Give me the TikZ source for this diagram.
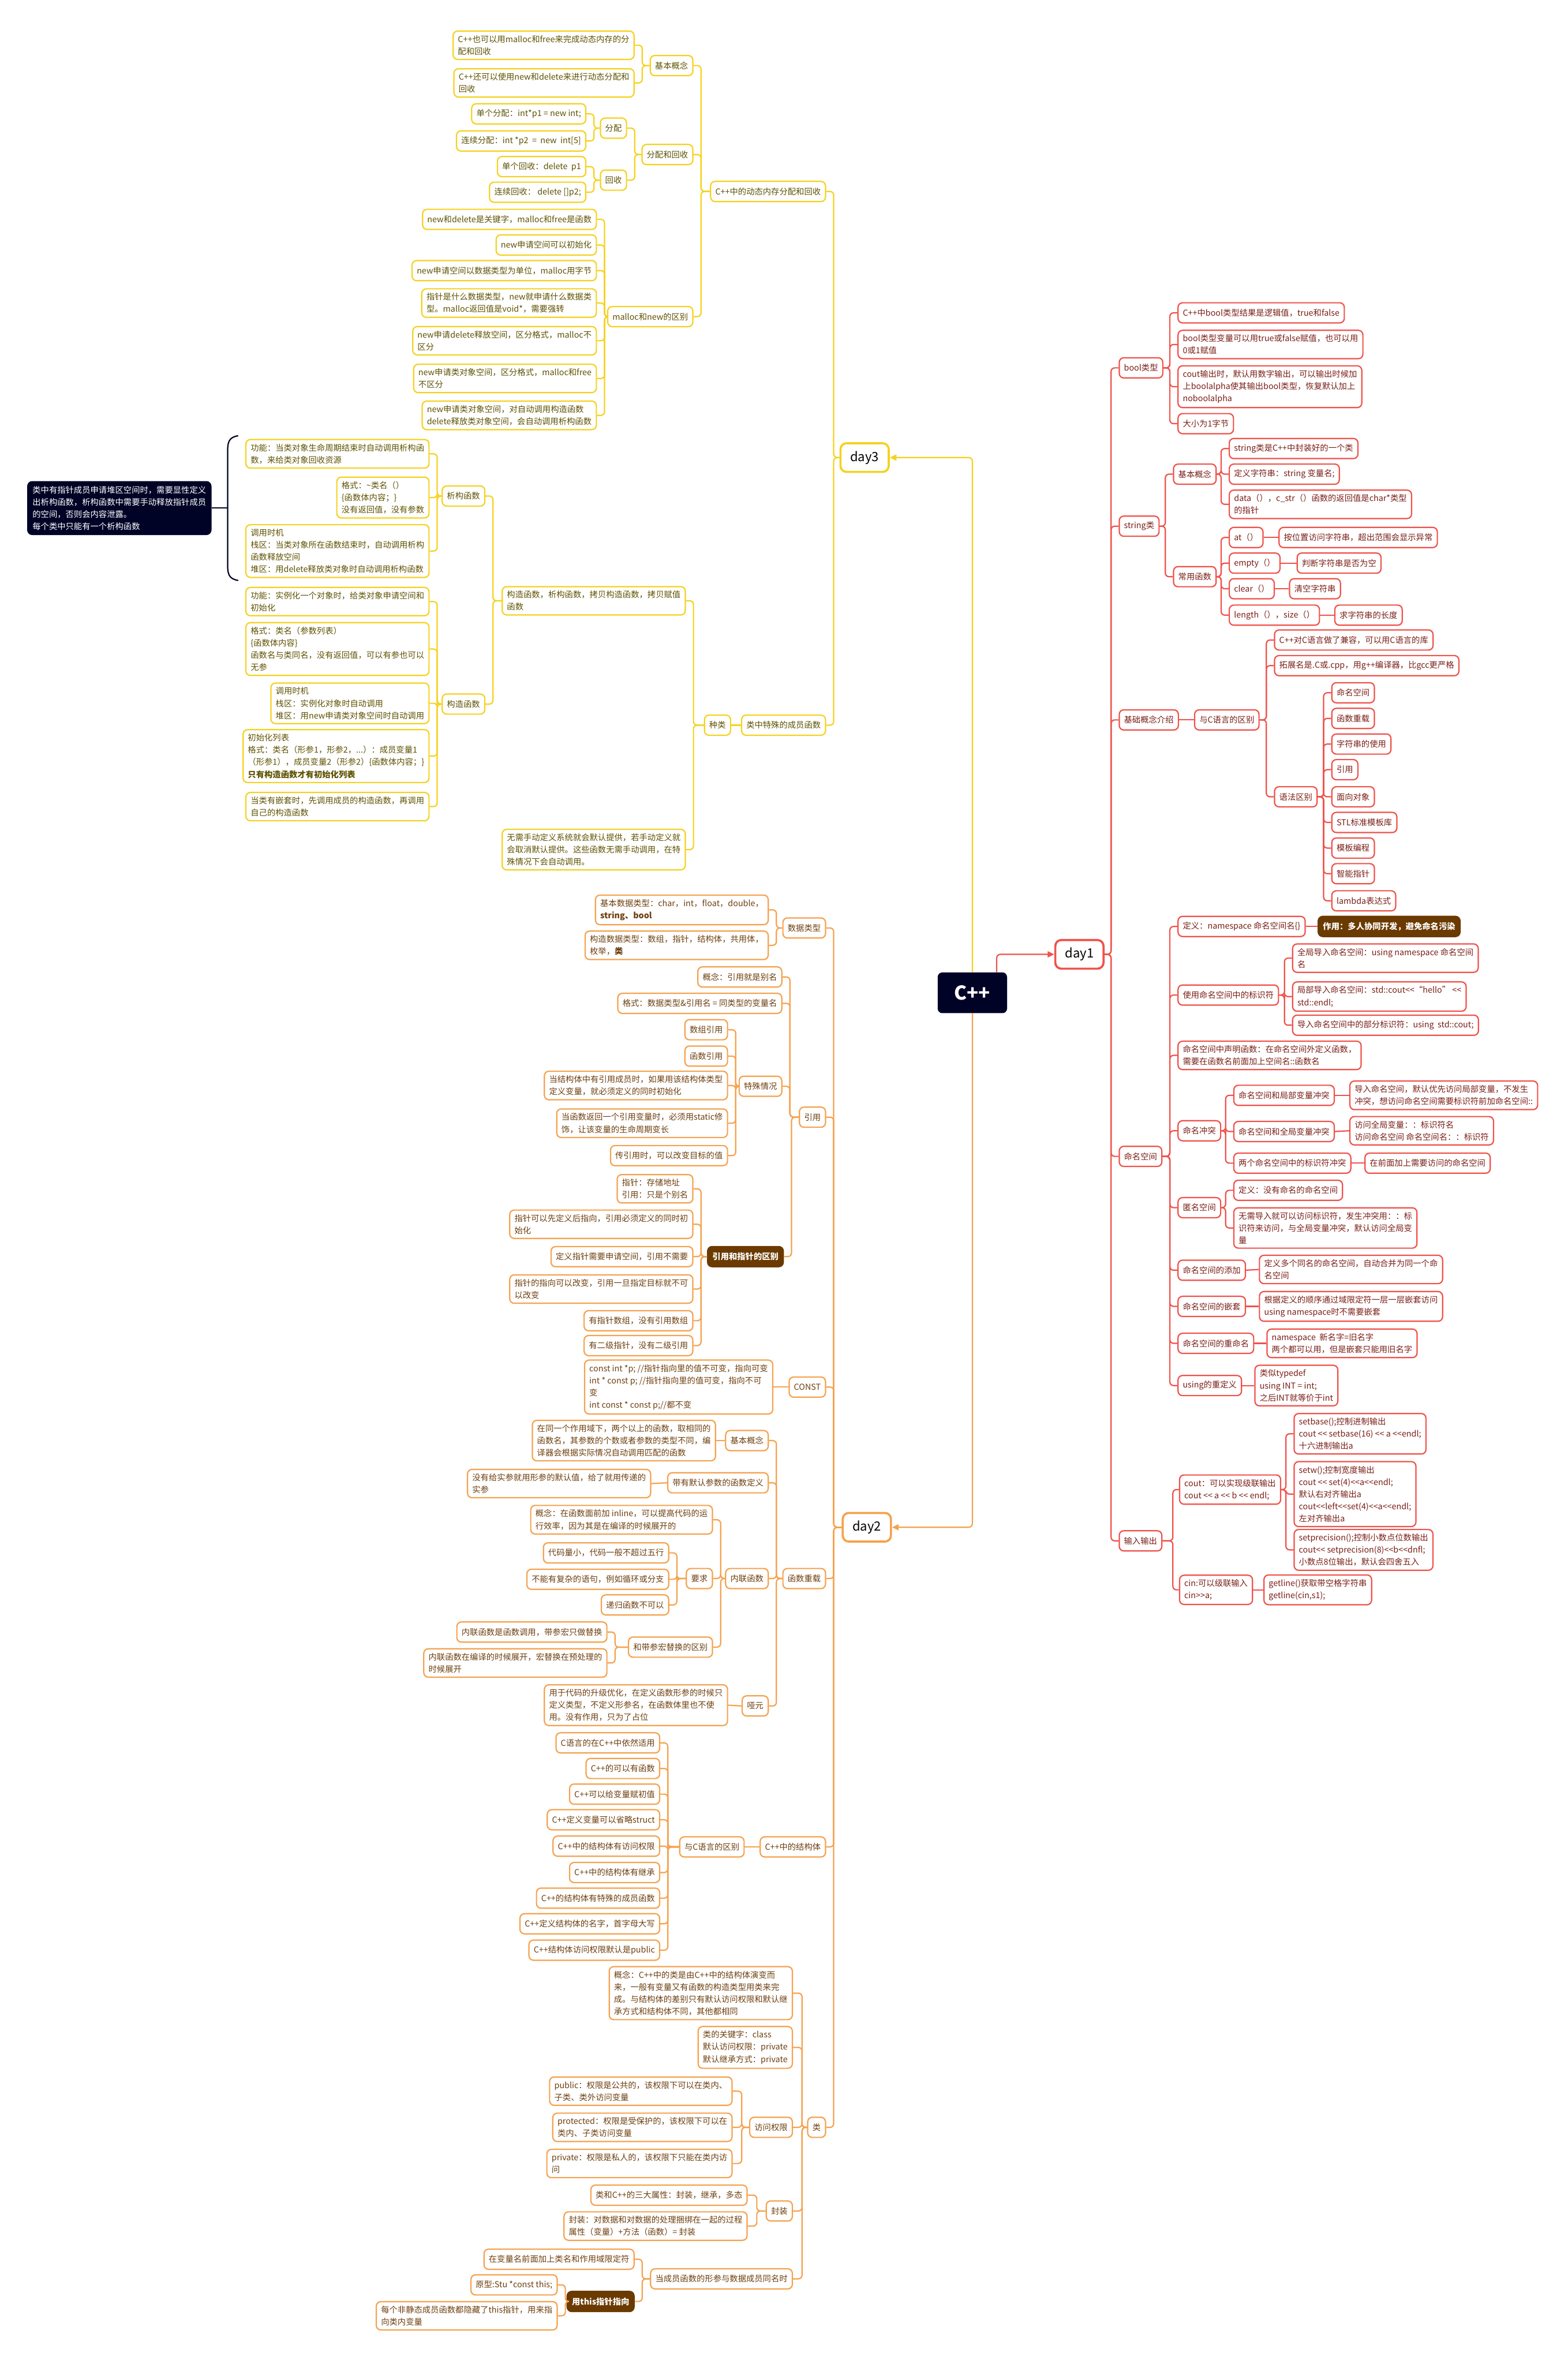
\documentclass[tikz,border=0pt]{standalone}
\usepackage{fontspec}
\setmainfont{Noto Sans CJK SC}
\usetikzlibrary{arrows.meta}
\definecolor{ylw}{HTML}{F5D21F}
\definecolor{ytx}{HTML}{5E5200}
\definecolor{rd}{HTML}{F0524B}
\definecolor{rtx}{HTML}{7A1E17}
\definecolor{org}{HTML}{F5A24E}
\definecolor{otx}{HTML}{6E3F0E}
\definecolor{brn}{HTML}{6B3A00}
\definecolor{navy}{HTML}{000326}
\newcommand\fs{\fontsize{7.8}{11.5}\selectfont}
\newcommand\sll{<\kern0pt<}
\newcommand\sgg{>\kern0pt>}

\begin{document}
\begin{tikzpicture}[
  x=0.5mm, y=-0.5mm,
  L/.style={anchor=east}, R/.style={anchor=west},
  box/.style={rectangle,rounded corners=1.5mm,line width=1.2pt,fill=white,align=left,font=\fs,inner xsep=4.5pt,inner ysep=4pt,minimum height=19pt},
  yb/.style={box,draw=ylw,text=ytx},
  rb/.style={box,draw=rd,text=rtx},
  ob/.style={box,draw=org,text=otx},
  hb/.style={box,draw=brn,fill=brn,text=white,font=\fs\bfseries},
  dayb/.style={rectangle,rounded corners=2mm,line width=2pt,fill=white,font=\fontsize{12}{14}\selectfont,minimum width=16mm,minimum height=9.5mm},
  ylk/.style={draw=ylw,line width=1.2pt,rounded corners=1.2mm},
  rlk/.style={draw=rd,line width=1.2pt,rounded corners=1.2mm},
  olk/.style={draw=org,line width=1.2pt,rounded corners=1.2mm},
  >={Triangle[length=2.2mm,width=2mm]}
]
\fill[white] (0,0) rectangle (1040,1568);
\useasboundingbox (0,0) rectangle (1040,1568);

% centre and the three days
\node[rectangle,rounded corners=1.5mm,fill=navy,text=white,font=\fontsize{18}{20}\selectfont\bfseries,minimum width=23mm,minimum height=13.5mm] (cpp) at (645,658.5) {C++};
\node[dayb,draw=ylw] (d3) at (573.5,303.5) {day3};
\node[dayb,draw=rd] (d1) at (716,633) {day1};
\node[dayb,draw=org] (d2) at (575,1013) {day2};
\draw[ylk,->] (cpp.north) |- (d3.east);
\draw[rlk,->] ([xshift=-3.5mm]cpp.north east) |- (d1.west);
\draw[olk,->] (cpp.south) |- (d2.east);

% ---------------- day3 ----------------
\node[yb,L] (dyn) at (548,127) {C++中的动态内存分配和回收};
\node[yb,L] (jb3) at (460,43.5) {基本概念};
\node[yb,L] (mf1) at (421,30) {C++也可以用malloc和free来完成动态内存的分\\配和回收};
\node[yb,L] (mf2) at (421,55) {C++还可以使用new和delete来进行动态分配和\\回收};
\node[yb,L] (fh) at (460,102.5) {分配和回收};
\node[yb,L] (fp) at (416,85) {分配};
\node[yb,L] (fp1) at (389,75.5) {单个分配：int*p1 = new int;};
\node[yb,L] (fp2) at (389,93.5) {连续分配：int *p2 \ = \ new \ int[5]};
\node[yb,L] (hs) at (416,119.5) {回收};
\node[yb,L] (hs1) at (389,110.5) {单个回收：delete \ p1};
\node[yb,L] (hs2) at (389,127.5) {连续回收： delete []p2;};
\node[yb,L] (mn) at (460,210) {malloc和new的区别};
\node[yb,L] (m1) at (396,145.5) {new和delete是关键字，malloc和free是函数};
\node[yb,L] (m2) at (396,162.5) {new申请空间可以初始化};
\node[yb,L] (m3) at (396,179.5) {new申请空间以数据类型为单位，malloc用字节};
\node[yb,L] (m4) at (396,201) {指针是什么数据类型，new就申请什么数据类\\型。malloc返回值是void*，需要强转};
\node[yb,L] (m5) at (396,226) {new申请delete释放空间，区分格式，malloc不\\区分};
\node[yb,L] (m6) at (396,251) {new申请类对象空间，区分格式，malloc和free\\不区分};
\node[yb,L] (m7) at (396,275.5) {new申请类对象空间，对自动调用构造函数\\delete释放类对象空间，会自动调用析构函数};

\node[yb,L] (spc) at (548,481) {类中特殊的成员函数};
\node[yb,L] (kind) at (485,481) {种类};
\node[yb,L] (fns) at (455,398.5) {构造函数，析构函数，拷贝构造函数，拷贝赋值\\函数};
\node[yb,L] (auto) at (455,563.5) {无需手动定义系统就会默认提供，若手动定义就\\会取消默认提供。这些函数无需手动调用，在特\\殊情况下会自动调用。};
\node[yb,L] (xg) at (322,329) {析构函数};
\node[yb,L] (xg1) at (285,301) {功能：当类对象生命周期结束时自动调用析构函\\数，来给类对象回收资源};
\node[yb,L] (xg2) at (285,330) {格式：\textasciitilde 类名（）\\\{函数体内容；\}\\没有返回值，没有参数};
\node[yb,L] (xg3) at (285,365.5) {调用时机\\栈区：当类对象所在函数结束时，自动调用析构\\函数释放空间\\堆区：用delete释放类对象时自动调用析构函数};
\node[yb,L] (gz) at (322,467) {构造函数};
\node[yb,L] (gz1) at (285,399) {功能：实例化一个对象时，给类对象申请空间和\\初始化};
\node[yb,L] (gz2) at (285,430.5) {格式：类名（参数列表）\\\{函数体内容\}\\函数名与类同名，没有返回值，可以有参也可以\\无参};
\node[yb,L] (gz3) at (285,466.5) {调用时机\\栈区：实例化对象时自动调用\\堆区：用new申请类对象空间时自动调用};
\node[yb,L] (gz4) at (285,501.5) {初始化列表\\格式：类名（形参1，形参2，...）：成员变量1\\（形参1），成员变量2（形参2）\{函数体内容；\}\\\textbf{只有构造函数才有初始化列表}};
\node[yb,L] (gz5) at (285,535) {当类有嵌套时，先调用成员的构造函数，再调用\\自己的构造函数};
\node[box,fill=navy,draw=navy,text=white,R] (note) at (18,337) {类中有指针成员申请堆区空间时，需要显性定义\\出析构函数，析构函数中需要手动释放指针成员\\的空间，否则会内容泄露。\\每个类中只能有一个析构函数};
\draw[navy,line width=1.2pt] (158,289) .. controls (152,290) and (151,293) .. (151,299) -- (151,375) .. controls (151,381) and (152,384) .. (158,385);
\draw[navy,line width=1.2pt] (151,337) -- (note.east);

\foreach \c in {dyn,spc} \draw[ylk] (\c.east) -- ++(5,0) |- (d3.west);
\foreach \c in {jb3,fh,mn} \draw[ylk] (\c.east) -- ++(5,0) |- (dyn.west);
\foreach \c in {mf1,mf2} \draw[ylk] (\c.east) -- ++(5,0) |- (jb3.west);
\foreach \c in {fp,hs} \draw[ylk] (\c.east) -- ++(5,0) |- (fh.west);
\foreach \c in {fp1,fp2} \draw[ylk] (\c.east) -- ++(5,0) |- (fp.west);
\foreach \c in {hs1,hs2} \draw[ylk] (\c.east) -- ++(5,0) |- (hs.west);
\foreach \i in {1,...,7} \draw[ylk] (m\i.east) -- ++(5,0) |- (mn.west);
\draw[ylk] (kind.east) -- (spc.west);
\foreach \c in {fns,auto} \draw[ylk] (\c.east) -- ++(5,0) |- (kind.west);
\foreach \c in {xg,gz} \draw[ylk] (\c.east) -- ++(5,0) |- (fns.west);
\foreach \i in {1,2,3} \draw[ylk] (xg\i.east) -- ++(5,0) |- (xg.west);
\foreach \i in {1,...,5} \draw[ylk] (gz\i.east) -- ++(5,0) |- (gz.west);

% ---------------- day1 ----------------
\node[rb,R] (bool) at (742,244) {bool类型};
\node[rb,R] (b1) at (781,207.5) {C++中bool类型结果是逻辑值，true和false};
\node[rb,R] (b2) at (781,228.5) {bool类型变量可以用true或false赋值，也可以用\\0或1赋值};
\node[rb,R] (b3) at (781,256.5) {cout输出时，默认用数字输出，可以输出时候加\\上boolalpha使其输出bool类型，恢复默认加上\\noboolalpha};
\node[rb,R] (b4) at (781,281) {大小为1字节};
\node[rb,R] (str) at (742,349) {string类};
\node[rb,R] (sbase) at (778,314.5) {基本概念};
\node[rb,R] (s1) at (815,297.5) {string类是C++中封装好的一个类};
\node[rb,R] (s2) at (815,314.5) {定义字符串：string 变量名;};
\node[rb,R] (s3) at (815,334.5) {data（），c\_str（）函数的返回值是char*类型\\的指针};
\node[rb,R] (sfun) at (778,382.5) {常用函数};
\node[rb,R] (fat) at (815,356.5) {at（）};
\node[rb,R] (fatd) at (848,356.5) {按位置访问字符串，超出范围会显示异常};
\node[rb,R] (emp) at (815,373.5) {empty（）};
\node[rb,R] (empd) at (860,373.5) {判断字符串是否为空};
\node[rb,R] (clr) at (815,390.5) {clear（）};
\node[rb,R] (clrd) at (855,390.5) {清空字符串};
\node[rb,R] (len) at (815,408) {length（），size（）};
\node[rb,R] (lend) at (885,408) {求字符串的长度};
\node[rb,R] (intro) at (742,477.5) {基础概念介绍};
\node[rb,R] (vsc) at (792,477.5) {与C语言的区别};
\node[rb,R] (c1) at (845,424.5) {C++对C语言做了兼容，可以用C语言的库};
\node[rb,R] (c2) at (845,441.5) {拓展名是.C或.cpp，用g++编译器，比gcc更严格};
\node[rb,R] (syn) at (845,528.5) {语法区别};
\node[rb,R] (g1) at (883,459.5) {命名空间};
\node[rb,R] (g2) at (883,476.5) {函数重载};
\node[rb,R] (g3) at (883,493.5) {字符串的使用};
\node[rb,R] (g4) at (883,510.5) {引用};
\node[rb,R] (g5) at (883,528.5) {面向对象};
\node[rb,R] (g6) at (883,545.5) {STL标准模板库};
\node[rb,R] (g7) at (883,562.5) {模板编程};
\node[rb,R] (g8) at (883,579.5) {智能指针};
\node[rb,R] (g9) at (883,597.5) {lambda表达式};
\node[rb,R] (ns) at (742,767) {命名空间};
\node[rb,R] (n1) at (781,614.5) {定义：namespace 命名空间名\{\}};
\node[hb,R] (n1d) at (874,614.5) {作用：多人协同开发，避免命名污染};
\node[rb,R] (n2) at (781,660) {使用命名空间中的标识符};
\node[rb,R] (n2a) at (857,635.5) {全局导入命名空间：using namespace 命名空间\\名};
\node[rb,R] (n2b) at (857,661) {局部导入命名空间：std::cout\sll“hello” \sll\\std::endl;};
\node[rb,R] (n2c) at (857,680) {导入命名空间中的部分标识符：using \ std::cout;};
\node[rb,R] (n3) at (781,700) {命名空间中声明函数：在命名空间外定义函数，\\需要在函数名前面加上空间名::函数名};
\node[rb,R] (n4) at (781,750) {命名冲突};
\node[rb,R] (n4a) at (818,726.5) {命名空间和局部变量冲突};
\node[rb,R] (n4ad) at (895,726.5) {导入命名空间，默认优先访问局部变量，不发生\\冲突，想访问命名空间需要标识符前加命名空间::};
\node[rb,R] (n4b) at (818,750.5) {命名空间和全局变量冲突};
\node[rb,R] (n4bd) at (895,750) {访问全局变量：：标识符名\\访问命名空间 命名空间名：：标识符};
\node[rb,R] (n4c) at (818,771.5) {两个命名空间中的标识符冲突};
\node[rb,R] (n4cd) at (905,771.5) {在前面加上需要访问的命名空间};
\node[rb,R] (n5) at (781,801) {匿名空间};
\node[rb,R] (n5a) at (818,789.5) {定义：没有命名的命名空间};
\node[rb,R] (n5b) at (818,814.5) {无需导入就可以访问标识符，发生冲突用：：标\\识符来访问，与全局变量冲突，默认访问全局变\\量};
\node[rb,R] (n6) at (781,842.5) {命名空间的添加};
\node[rb,R] (n6d) at (835,842) {定义多个同名的命名空间，自动合并为同一个命\\名空间};
\node[rb,R] (n7) at (781,866.5) {命名空间的嵌套};
\node[rb,R] (n7d) at (835,866.5) {根据定义的顺序通过域限定符一层一层嵌套访问\\using namespace时不需要嵌套};
\node[rb,R] (n8) at (781,891) {命名空间的重命名};
\node[rb,R] (n8d) at (840,891) {namespace \ 新名字=旧名字\\两个都可以用，但是嵌套只能用旧名字};
\node[rb,R] (n9) at (781,919) {using的重定义};
\node[rb,R] (n9d) at (832,919) {类似typedef\\using INT = int;\\之后INT就等价于int};
\node[rb,R] (io) at (742,1022) {输入输出};
\node[rb,R] (cout) at (782,988) {cout：可以实现级联输出\\cout \sll{} a \sll{} b \sll{} endl;};
\node[rb,R] (io1) at (858,951) {setbase();控制进制输出\\cout \sll{} setbase(16) \sll{} a \sll endl;\\十六进制输出a};
\node[rb,R] (io2) at (858,991) {setw();控制宽度输出\\cout \sll{} set(4)\sll a\sll endl;\\默认右对齐输出a\\cout\sll left\sll set(4)\sll a\sll endl;\\左对齐输出a};
\node[rb,R] (io3) at (858,1028) {setprecision();控制小数点位数输出\\cout\sll{} setprecision(8)\sll b\sll dnfl;\\小数点8位输出，默认会四舍五入};
\node[rb,R] (cin) at (782,1054.5) {cin:可以级联输入\\cin\sgg a;};
\node[rb,R] (cind) at (838,1054.5) {getline()获取带空格字符串\\getline(cin,s1);};

\foreach \c in {bool,str,intro,ns,io} \draw[rlk] (\c.west) -- ++(-5,0) |- (d1.east);
\foreach \i in {1,...,4} \draw[rlk] (b\i.west) -- ++(-5,0) |- (bool.east);
\foreach \c in {sbase,sfun} \draw[rlk] (\c.west) -- ++(-5,0) |- (str.east);
\foreach \i in {1,2,3} \draw[rlk] (s\i.west) -- ++(-5,0) |- (sbase.east);
\foreach \c in {fat,emp,clr,len} {
  \draw[rlk] (\c.west) -- ++(-5,0) |- (sfun.east);
  \draw[rlk] (\c.east) -- (\c d.west);
}
\draw[rlk] (intro.east) -- (vsc.west);
\foreach \c in {c1,c2,syn} \draw[rlk] (\c.west) -- ++(-5,0) |- (vsc.east);
\foreach \i in {1,...,9} \draw[rlk] (g\i.west) -- ++(-5,0) |- (syn.east);
\foreach \i in {1,...,9} \draw[rlk] (n\i.west) -- ++(-5,0) |- (ns.east);
\foreach \c in {n1,n6,n7,n8,n9} \draw[rlk] (\c.east) -- (\c d.west);
\foreach \c in {n2a,n2b,n2c} \draw[rlk] (\c.west) -- ++(-5,0) |- (n2.east);
\foreach \c in {n4a,n4b,n4c} {
  \draw[rlk] (\c.west) -- ++(-5,0) |- (n4.east);
  \draw[rlk] (\c.east) -- (\c d.west);
}
\foreach \c in {n5a,n5b} \draw[rlk] (\c.west) -- ++(-5,0) |- (n5.east);
\foreach \c in {cout,cin} \draw[rlk] (\c.west) -- ++(-4,0) |- (io.east);
\foreach \i in {1,2,3} \draw[rlk] (io\i.west) -- ++(-5,0) |- (cout.east);
\draw[rlk] (cin.east) -- (cind.west);

% ---------------- day2 ----------------
\node[ob,L] (dtype) at (548,615.5) {数据类型};
\node[ob,L] (dt1) at (510,603.5) {基本数据类型：char，int，float，double，\\\textbf{string、bool}};
\node[ob,L] (dt2) at (510,627) {构造数据类型：数组，指针，结构体，共用体，\\枚举，\textbf{类}};
\node[ob,L] (ref) at (548,741) {引用};
\node[ob,L] (rf1) at (519,648) {概念：引用就是别名};
\node[ob,L] (rf2) at (519,665.5) {格式：数据类型\&引用名 = 同类型的变量名};
\node[ob,L] (spec) at (519,720.5) {特殊情况};
\node[ob,L] (sp1) at (483,683) {数组引用};
\node[ob,L] (sp2) at (483,700.5) {函数引用};
\node[ob,L] (sp3) at (483,720) {当结构体中有引用成员时，如果用该结构体类型\\定义变量，就必须定义的同时初始化};
\node[ob,L] (sp4) at (483,745) {当函数返回一个引用变量时，必须用static修\\饰，让该变量的生命周期变长};
\node[ob,L] (sp5) at (483,766.5) {传引用时，可以改变目标的值};
\node[hb,L] (rvp) at (520,833.5) {引用和指针的区别};
\node[ob,L] (rp1) at (460,788.5) {指针：存储地址\\引用：只是个别名};
\node[ob,L] (rp2) at (460,812) {指针可以先定义后指向，引用必须定义的同时初\\始化};
\node[ob,L] (rp3) at (460,833.5) {定义指针需要申请空间，引用不需要};
\node[ob,L] (rp4) at (460,855) {指针的指向可以改变，引用一旦指定目标就不可\\以改变};
\node[ob,L] (rp5) at (460,876) {有指针数组，没有引用数组};
\node[ob,L] (rp6) at (460,892.5) {有二级指针，没有二级引用};
\node[ob,L] (cst) at (548,920) {CONST};
\node[ob,L] (cstd) at (513,920) {const int *p; //指针指向里的值不可变，指向可变\\int * const p; //指针指向里的值可变，指向不可\\变\\int const * const p;//都不变};
\node[ob,L] (ovl) at (548,1047) {函数重载};
\node[ob,L] (ov1) at (510,955.5) {基本概念};
\node[ob,L] (ov1d) at (475,955.5) {在同一个作用域下，两个以上的函数，取相同的\\函数名，其参数的个数或者参数的类型不同，编\\译器会根据实际情况自动调用匹配的函数};
\node[ob,L] (ov2) at (510,983.5) {带有默认参数的函数定义};
\node[ob,L] (ov2d) at (432,984) {没有给实参就用形参的默认值，给了就用传递的\\实参};
\node[ob,L] (inl) at (510,1047) {内联函数};
\node[ob,L] (in1) at (473,1008) {概念：在函数面前加 inline，可以提高代码的运\\行效率，因为其是在编译的时候展开的};
\node[ob,L] (req) at (473,1047) {要求};
\node[ob,L] (rq1) at (444,1030) {代码量小，代码一般不超过五行};
\node[ob,L] (rq2) at (444,1047.5) {不能有复杂的语句，例如循环或分支};
\node[ob,L] (rq3) at (444,1064.5) {递归函数不可以};
\node[ob,L] (mac) at (473,1092.5) {和带参宏替换的区别};
\node[ob,L] (mc1) at (403,1082.5) {内联函数是函数调用，带参宏只做替换};
\node[ob,L] (mc2) at (403,1103) {内联函数在编译的时候展开，宏替换在预处理的\\时候展开};
\node[ob,L] (dum) at (510,1131.5) {哑元};
\node[ob,L] (dumd) at (483,1131) {用于代码的升级优化，在定义函数形参的时候只\\定义类型，不定义形参名，在函数体里也不使\\用。没有作用，只为了占位};
\node[ob,L] (st) at (548,1225) {C++中的结构体};
\node[ob,L] (stc) at (494,1225) {与C语言的区别};
\node[ob,L] (st1) at (438,1156) {C语言的在C++中依然适用};
\node[ob,L] (st2) at (438,1173) {C++的可以有函数};
\node[ob,L] (st3) at (438,1190) {C++可以给变量赋初值};
\node[ob,L] (st4) at (438,1207) {C++定义变量可以省略struct};
\node[ob,L] (st5) at (438,1224.5) {C++中的结构体有访问权限};
\node[ob,L] (st6) at (438,1242) {C++中的结构体有继承};
\node[ob,L] (st7) at (438,1259) {C++的结构体有特殊的成员函数};
\node[ob,L] (st8) at (438,1276) {C++定义结构体的名字，首字母大写};
\node[ob,L] (st9) at (438,1293.5) {C++结构体访问权限默认是public};
\node[ob,L] (cls) at (548,1411) {类};
\node[ob,L] (cl1) at (526,1322) {概念：C++中的类是由C++中的结构体演变而\\来，一般有变量又有函数的构造类型用类来完\\成。与结构体的差别只有默认访问权限和默认继\\承方式和结构体不同，其他都相同};
\node[ob,L] (cl2) at (526,1358) {类的关键字：class\\默认访问权限：private\\默认继承方式：private};
\node[ob,L] (acc) at (526,1411) {访问权限};
\node[ob,L] (ac1) at (486,1387) {public：权限是公共的，该权限下可以在类内、\\子类、类外访问变量};
\node[ob,L] (ac2) at (486,1411) {protected：权限是受保护的，该权限下可以在\\类内、子类访问变量};
\node[ob,L] (ac3) at (486,1435) {private：权限是私人的，该权限下只能在类内访\\问};
\node[ob,L] (enc) at (526,1466.5) {封装};
\node[ob,L] (en1) at (496,1456) {类和C++的三大属性：封装，继承，多态};
\node[ob,L] (en2) at (496,1476.5) {封装：对数据和对数据的处理捆绑在一起的过程\\属性（变量）+方法（函数）= 封装};
\node[ob,L] (smn) at (526,1511.5) {当成员函数的形参与数据成员同名时};
\node[ob,L] (sm1) at (421,1498.5) {在变量名前面加上类名和作用域限定符};
\node[hb,L] (ths) at (421,1526.5) {用this指针指向};
\node[ob,L] (th1) at (370,1515.5) {原型:Stu *const this;};
\node[ob,L] (th2) at (370,1536) {每个非静态成员函数都隐藏了this指针，用来指\\向类内变量};

\foreach \c in {dtype,ref,cst,ovl,st,cls} \draw[olk] (\c.east) -- ++(5,0) |- (d2.west);
\foreach \i in {1,2} \draw[olk] (dt\i.east) -- ++(5,0) |- (dtype.west);
\foreach \c in {rf1,rf2,spec,rvp} \draw[olk] (\c.east) -- ++(5,0) |- (ref.west);
\foreach \i in {1,...,5} \draw[olk] (sp\i.east) -- ++(5,0) |- (spec.west);
\foreach \i in {1,...,6} \draw[olk] (rp\i.east) -- ++(5,0) |- (rvp.west);
\foreach \c in {cst,ov1,ov2,dum} \draw[olk] (\c d.east) -- (\c.west);
\foreach \c in {ov1,ov2,inl,dum} \draw[olk] (\c.east) -- ++(5,0) |- (ovl.west);
\foreach \c in {in1,req,mac} \draw[olk] (\c.east) -- ++(5,0) |- (inl.west);
\foreach \i in {1,2,3} \draw[olk] (rq\i.east) -- ++(5,0) |- (req.west);
\foreach \i in {1,2} \draw[olk] (mc\i.east) -- ++(5,0) |- (mac.west);
\draw[olk] (stc.east) -- (st.west);
\foreach \i in {1,...,9} \draw[olk] (st\i.east) -- ++(5,0) |- (stc.west);
\foreach \c in {cl1,cl2,acc,enc,smn} \draw[olk] (\c.east) -- ++(6,0) |- (cls.west);
\foreach \i in {1,2,3} \draw[olk] (ac\i.east) -- ++(6,0) |- (acc.west);
\foreach \i in {1,2} \draw[olk] (en\i.east) -- ++(6,0) |- (enc.west);
\foreach \c in {sm1,ths} \draw[olk] (\c.east) -- ++(5,0) |- (smn.west);
\foreach \i in {1,2} \draw[olk] (th\i.east) -- ++(5,0) |- (ths.west);
\end{tikzpicture}
\end{document}
